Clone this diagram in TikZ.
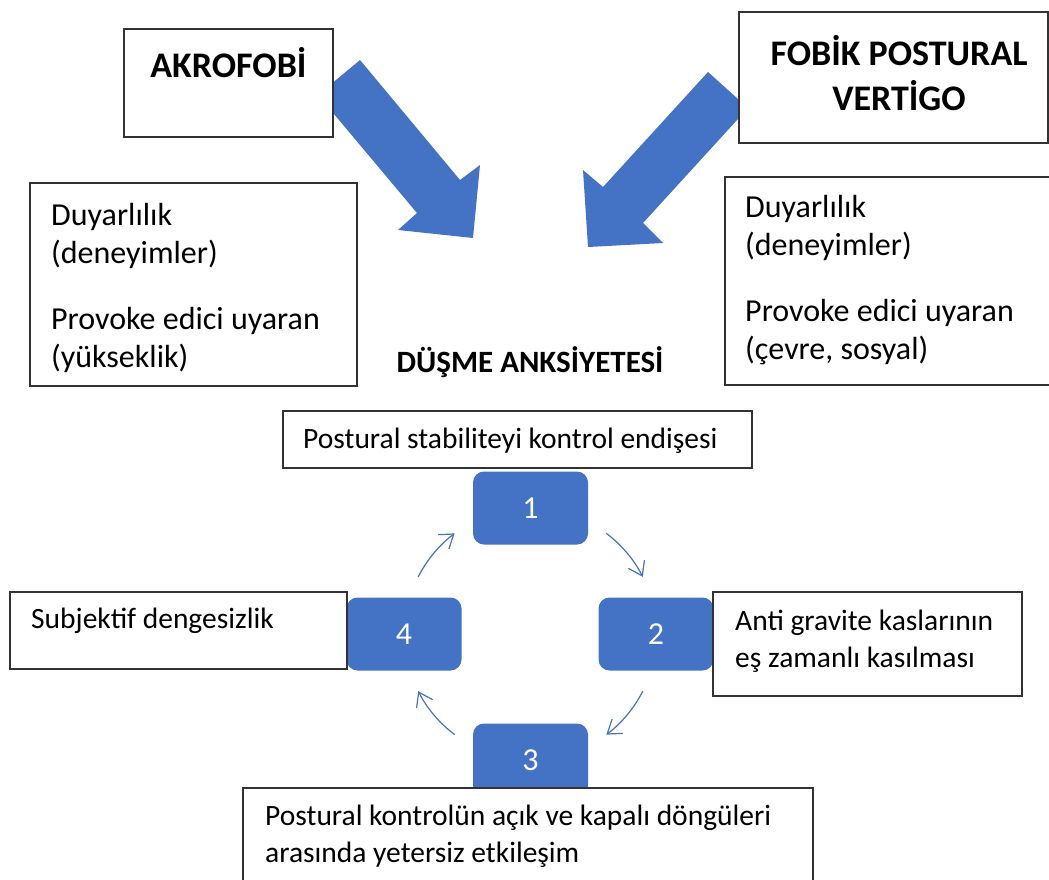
\documentclass[tikz,border=0pt]{standalone}
\usepackage{fontspec}
\setmainfont{Carlito}
\usetikzlibrary{arrows.meta,positioning}
\definecolor{ofismavi}{HTML}{4472C4}
\tikzset{
	kutu/.style={draw=black!80, line width=1.4pt, fill=white, inner sep=0pt},
	sayikutu/.style={fill=ofismavi, rounded corners=11pt, minimum width=115pt, minimum height=73pt, text=white, font=\fontsize{32}{38}\selectfont},
	buyukyazi/.style={inner sep=0pt, align=left, font=\fontsize{32}{38}\selectfont},
	yazi/.style={inner sep=0pt, align=left, font=\fontsize{29.5}{37}\selectfont},
	baslik/.style={inner sep=0pt, align=center, font=\bfseries\fontsize{36}{45}\selectfont},
	donus/.style={ofismavi, line width=1.2pt, -{Straight Barb[length=13pt,width=18pt]}},
	okblok/.style={fill=ofismavi}
}
\begin{document}
\begin{tikzpicture}[x=1pt, y=-1pt]
	\useasboundingbox (0,0) rectangle (1049,879);
	\clip (0,0) rectangle (1049,879);
	% kalin oklar
	\fill[okblok] (360,60) -- (460,180) -- (480,165) -- (473,238) -- (398,230) -- (417,213) -- (318,95) -- cycle;
	\fill[okblok] (708,72) -- (603,187) -- (583,170) -- (588,247) -- (663,243) -- (643,223) -- (748,108) -- cycle;
	% dongu
	\node[sayikutu] (b1) at (530.5,508) {1};
	\node[sayikutu] (b2) at (656,634) {2};
	\node[sayikutu] (b3) at (530.5,760) {3};
	\node[sayikutu] (b4) at (404,634) {4};
	\coordinate (merkez) at (b1 |- b4);
	\foreach \s in {-53,27,127,-153}
		\draw[donus] (merkez) ++(\s:126) arc[start angle=\s, delta angle=26, radius=126];
	% ust kutular (cok satirli yazilarda base = son satir)
	\node[kutu, minimum width=209pt, minimum height=108pt] (akro) at (228.5,83) {};
	\node[baslik, anchor=base] (akroyazi) at (228.5,77) {AKROFOB\.I};
	\node[kutu, minimum width=309pt, minimum height=131pt] (fobik) at (893.5,77.5) {};
	\node[baslik, anchor=base] (fobikyazi) at (899,110) {FOB\.IK POSTURAL\\VERT\.IGO};
	\node[kutu, minimum width=327pt, minimum height=203pt] (sol) at (193.5,284.5) {};
	\node[buyukyazi, anchor=base west] (sol1) at (51,263) {Duyarlılık\\(deneyimler)};
	\node[buyukyazi, anchor=base west] (sol2) at (51,367) {Provoke edici uyaran\\(yükseklik)};
	\node[kutu, minimum width=327pt, minimum height=208pt] (sag) at (888.5,281) {};
	\node[buyukyazi, anchor=base west] (sag1) at (745,255) {Duyarlılık\\(deneyimler)};
	\node[buyukyazi, anchor=base west] (sag2) at (745,359) {Provoke edici uyaran\\(çevre, sosyal)};
	\node[baslik, anchor=base, font=\bfseries\fontsize{31}{37}\selectfont] (dusme) at (530,372) {DÜŞME ANKS\.IYETES\.I};
	% alt kutular
	\node[kutu, minimum width=469pt, minimum height=57pt] (endise) at (517.5,439.5) {};
	\node[yazi, anchor=base west] (endiseyazi) at (303,448) {Postural stabiliteyi kontrol endişesi};
	\node[kutu, minimum width=337pt, minimum height=77pt] (subj) at (178.5,630.5) {};
	\node[yazi, anchor=base west] (subjyazi) at (31,628) {Subjektif dengesizlik};
	\node[kutu, minimum width=309pt, minimum height=104pt] (anti) at (867.5,644) {};
	\node[yazi, anchor=base west] (antiyazi) at (735,667) {Anti gravite kaslarının\\eş zamanlı kasılması};
	\node[kutu, minimum width=570pt, minimum height=112pt] (alt) at (528,844) {};
	\node[yazi, anchor=base west] (altyazi) at (265,862) {Postural kontrolün açık ve kapalı döngüleri\\arasında yetersiz etkileşim};
\end{tikzpicture}
\end{document}
